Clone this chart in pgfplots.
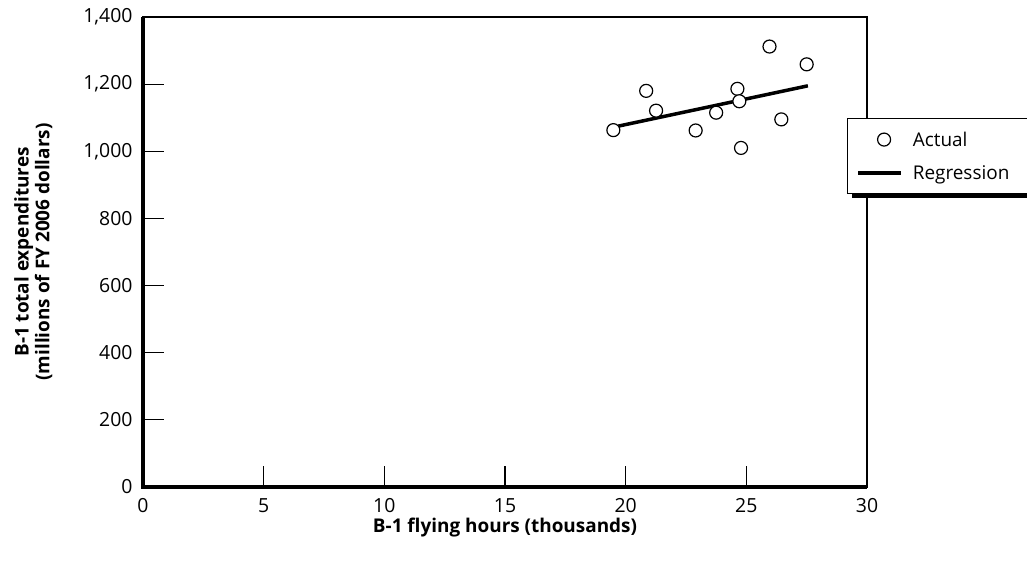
\documentclass[border=0pt]{standalone}
\usepackage{fontspec}
\setmainfont{Open Sans}
\usepackage{pgfplots}
\pgfplotsset{compat=1.18}
\pgfplotsset{
    reglegend/.style={legend image code/.code={\draw[##1] (0bp,0bp) -- (43bp,0bp);}},
    actlegend/.style={legend image code/.code={%
        \draw[mark repeat=2,mark phase=2,##1] plot coordinates {(0bp,0bp) (26bp,0bp) (43bp,0bp)};}},
}

\begin{document}
\begin{tikzpicture}[font=\fontsize{19}{23}\selectfont]
\useasboundingbox (-143bp,-74bp) rectangle (884bp,487bp);
\begin{axis}[
    name=ax,
    scale only axis,
    width=724bp,
    height=470bp,
    at={(0,0)}, anchor=south west,
    clip=false,
    xmin=0, xmax=30,
    ymin=0, ymax=1400,
    xtick={0,5,...,30},
    ytick={0,200,...,1400},
    tick align=inside,
    xtick pos=bottom,
    ytick pos=left,
    major tick length=21bp,
    tick style={line width=1.2bp, black},
    axis line style={line width=1.2bp},
    /pgf/number format/1000 sep={,},
    /pgf/number format/assume math mode=true,
    tick label style={font=\fontsize{19.5}{23}\selectfont},
    yticklabel style={xshift=-7bp},
    xticklabel style={yshift=-8bp},
    xlabel={B-1 flying hours (thousands)},
    ylabel={B-1 total expenditures\\(millions of FY 2006 dollars)},
    xlabel style={font=\fontsize{19}{23}\selectfont\bfseries, yshift=2bp},
    ylabel style={align=center, font=\fontsize{19}{21}\selectfont\bfseries, yshift=24bp},
    reverse legend,
    legend cell align=left,
    legend style={name=leg, at={(0.972,0.785)}, anchor=north west,
        draw=black, line width=1.2bp, fill=white,
        inner xsep=9bp, inner ysep=11bp, row sep=14bp, column sep=8bp,
        font=\fontsize{19}{23}\selectfont},
]
% regression line
\addplot[line width=3.5bp, black, reglegend]
    coordinates {(19.7,1075) (27.55,1195)};
\addlegendentry{Regression\rule{20bp}{0pt}}
% actual observations
\addplot[only marks, mark=*, mark size=6.5bp,
    mark options={draw=black, fill=white, line width=1.2bp}, actlegend]
    coordinates {
    (19.49,1063) (20.85,1180) (21.26,1121) (22.90,1062) (23.75,1115)
    (24.63,1186) (24.71,1149) (24.78,1010) (25.96,1312) (26.45,1095)
    (27.50,1259)
};
\addlegendentry{Actual}
\end{axis}
% heavy left and bottom axis lines
\draw[line width=4.5bp] (ax.north west) -- (ax.south west) -- (ax.south east);
% legend shadow
\fill[black] ([xshift=5bp]leg.south west) rectangle ([xshift=5bp,yshift=-4bp]leg.south east);
\fill[black] ([yshift=-4bp]leg.north east) rectangle ([xshift=5bp,yshift=-4bp]leg.south east);
\end{tikzpicture}
\end{document}
